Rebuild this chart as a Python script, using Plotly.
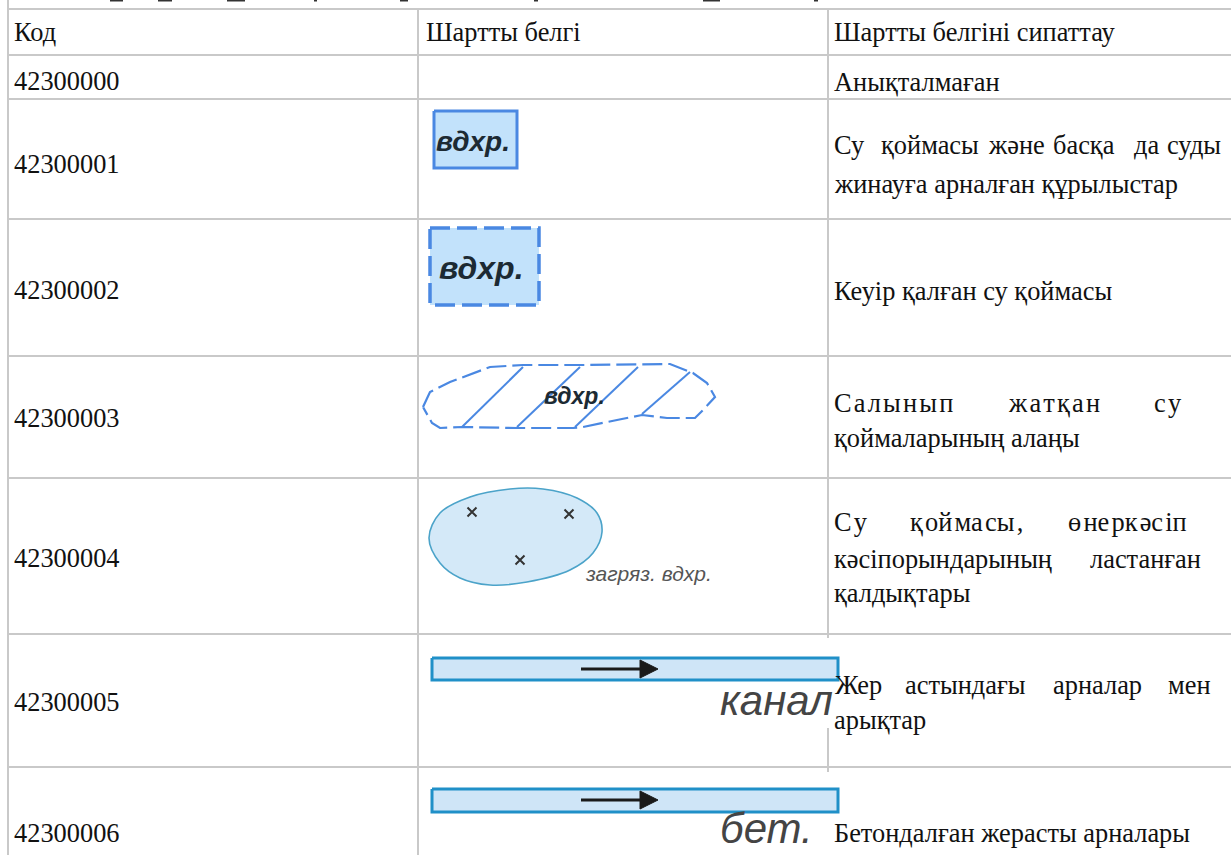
import plotly.graph_objects as go

W, H = 1231, 855
RULE = "#c9c9c9"
INK = "#111111"
SERIF = "Liberation Serif"
SANS = "Liberation Sans"
FS = 26.4

# table rules
row_lines = [9, 55, 99, 219, 356, 478, 634, 767]
col1_x, col2_x, col3_x = 8, 418, 828
col3_segments = [(9, 638), (728, 772)]

# table text
headers = ["Код", "Шартты белгі", "Шартты белгіні сипаттау"]
codes = ["42300000", "42300001", "42300002", "42300003", "42300004", "42300005", "42300006"]
code_y = [81, 164, 290, 418, 558, 702, 833]

# description: (text, x, y, letter-spacing: 0 none, 1 every gap, 2 every other gap)
desc_words = [
    ("Анықталмаған", 834, 82, 0),
    ("Су", 834, 145, 0), ("қоймасы", 881, 145, 0), ("және", 988, 145, 0),
    ("басқа", 1053, 145, 0), ("да", 1134, 145, 0), ("суды", 1167, 145, 0),
    ("жинауға арналған құрылыстар", 834, 184, 0),
    ("Кеуір қалған су қоймасы", 834, 291, 0),
    ("Салынып", 834, 403, 1), ("жатқан", 1008, 403, 1), ("су", 1154, 403, 1),
    ("қоймаларының алаңы", 834, 438, 0),
    ("Су", 834, 522, 2), ("қоймасы,", 910, 522, 2), ("өнеркәсіп", 1068, 522, 2),
    ("кәсіпорындарының", 834, 559, 0), ("ластанған", 1090, 559, 0),
    ("қалдықтары", 834, 593, 0),
    ("Жер", 835, 685, 0), ("астындағы", 905, 685, 0), ("арналар", 1053, 685, 0), ("мен", 1168, 685, 0),
    ("арықтар", 834, 720, 0),
    ("Бетондалған жерасты арналары", 834, 833, 0),
]

# clipped descenders of the line above the table
top_marks = [(110, 123), (158, 172), (227, 245), (314, 317), (400, 408), (534, 538), (703, 720), (814, 818)]

# symbols
box1_x = [434, 517, 517, 434, 434]
box1_y = [111, 111, 168, 168, 111]
box2_x = [430, 539, 539, 430, 430]
box2_y = [228, 228, 305, 305, 228]
lot_x = [423, 430, 450, 490, 523, 583, 670, 693, 707, 715, 703, 695, 667, 642, 617, 583, 573, 517, 462, 440, 432, 423]
lot_y = [407, 392, 382, 367, 365, 365, 364, 373, 383, 397, 410, 418, 418, 415, 420, 427, 428, 428, 427, 428, 423, 407]
hatch_x = [[462, 523], [517, 580], [575, 638], [642, 690]]
hatch_y = [[427, 367], [427, 367], [427, 367], [414, 372]]
blob_x = [429, 440, 470, 510, 543, 577, 597, 602, 593, 570, 527, 490, 460, 440, 429]
blob_y = [538, 513, 497, 489, 489, 498, 513, 532, 553, 570, 582, 585, 578, 563, 538]
cross_x = [472, 569, 520]
cross_y = [512, 514, 560]
channels_top = [658, 789]
channels_bot = [680, 812]
chan_x0, chan_x1 = 432, 838
arrow_y = [669, 800]

fig = go.Figure()


def line(xs, ys, color=RULE, width=2, dash=None, fill=None, fillcolor=None, shape="linear"):
    fig.add_trace(go.Scatter(
        x=xs, y=ys, mode="lines", hoverinfo="skip", showlegend=False,
        line=dict(color=color, width=width, dash=dash, shape=shape),
        fill=fill, fillcolor=fillcolor,
    ))


def text(s, x, y, size=FS, family=SERIF, color=INK, anchor="left"):
    fig.add_annotation(
        x=x, y=y, text=s, showarrow=False, xanchor=anchor, yanchor="middle",
        borderpad=0, borderwidth=0, align="left",
        font=dict(family=family, size=size, color=color),
    )


def spaced_word(word, mode):
    if mode == 1:
        return "\u200a".join(word)
    if mode == 2:
        return "".join(c + ("\u200a" if i % 2 == 0 else "") for i, c in enumerate(word)).rstrip("\u200a")
    return word


# rules
for y in row_lines:
    line([col1_x, W], [y, y])
line([col1_x, col1_x], [0, H])
line([col2_x, col2_x], [9, H])
for a, b in col3_segments:
    line([col3_x, col3_x], [a, b])
for a, b in top_marks:
    line([a, b], [0.5, 0.5], color="#333333", width=2)

# symbols
line(box1_x, box1_y, color="#4a88e2", width=3, fill="toself", fillcolor="#c2e2fb")
text("<b><i>вдхр.</i></b>", 473, 141, size=28, family=SANS, color="#1c2a33", anchor="center")

line(box2_x, box2_y, color="#4a88e2", width=3.5, dash="20px,7px", fill="toself", fillcolor="#c2e2fb")
text("<b><i>вдхр.</i></b>", 481, 268, size=32, family=SANS, color="#1c2a33", anchor="center")

line(lot_x, lot_y, color="#4a88e2", width=2.2, dash="20px,6px")
for xs, ys in zip(hatch_x, hatch_y):
    line(xs, ys, color="#4a88e2", width=2)
text("<b><i>вдхр.</i></b>", 574, 396, size=23, family=SANS, color="#1c2a33", anchor="center")

line(blob_x, blob_y, color="#4ba3c9", width=1.6, fill="toself", fillcolor="#d4e9f8", shape="spline")
fig.add_trace(go.Scatter(
    x=cross_x, y=cross_y, mode="markers", hoverinfo="skip", showlegend=False,
    marker=dict(symbol="x-thin", size=9, line=dict(color="#333333", width=2)),
))
text("<i>загряз. вдхр.</i>", 585, 573, size=21, family=SANS, color="#555555")

for t, b, ay in zip(channels_top, channels_bot, arrow_y):
    line([chan_x0, chan_x1, chan_x1, chan_x0, chan_x0], [t, t, b, b, t],
         color="#2090c8", width=3, fill="toself", fillcolor="#cfe5f7")
    line([581, 642], [ay, ay], color="#1a1a1a", width=3)
    line([640, 658, 640, 640], [ay - 9, ay, ay + 9, ay - 9], color="#1a1a1a", width=1,
         fill="toself", fillcolor="#1a1a1a")
text("<i>канал</i>", 720, 700, size=42, family=SANS, color="#444444")
text("<i>бет.</i>", 720, 828, size=42, family=SANS, color="#444444")

# table text
for s, x in zip(headers, [14, 426, 834]):
    text(s, x, 32)
for s, y in zip(codes, code_y):
    text(s, 14, y)
for s, x, y, mode in desc_words:
    text(spaced_word(s, mode), x, y)

fig.update_layout(
    width=W, height=H, margin=dict(l=0, r=0, t=0, b=0),
    paper_bgcolor="white", plot_bgcolor="white", showlegend=False,
    xaxis=dict(range=[0, W], visible=False, fixedrange=True),
    yaxis=dict(range=[H, 0], visible=False, fixedrange=True),
)
fig.write_html("out.html", config={"displayModeBar": False},
               post_script="document.body.style.margin='0';document.body.style.overflow='hidden';")
